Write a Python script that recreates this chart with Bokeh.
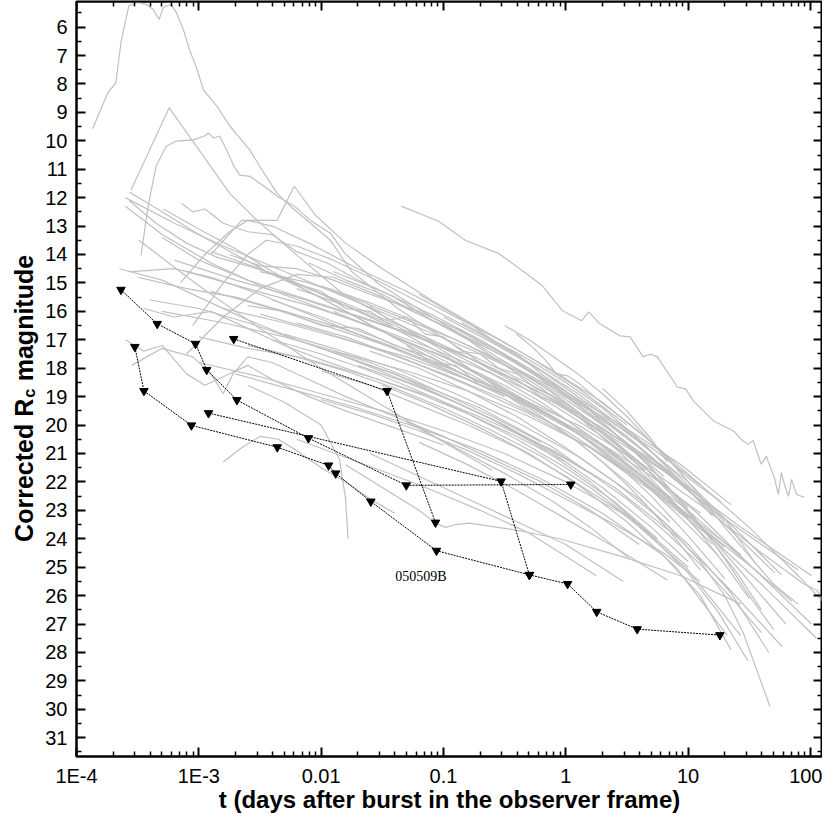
import math
from bokeh.plotting import figure
from bokeh.layouts import row
from bokeh.models import (Range1d, LogAxis, LinearAxis, FixedTicker,
                          CustomJSTickFormatter, Label)
from bokeh.core.properties import value
from bokeh.embed import file_html
from bokeh.resources import INLINE

# ---------------- axis ticks ----------------
x_ticks = [1e-4, 1e-3, 1e-2, 1e-1, 1, 10, 100]
x_tick_labels = ["1E-4", "1E-3", "0.01", "0.1", "1", "10", "100"]
x_minor = [m * d for d in [1e-4, 1e-3, 1e-2, 1e-1, 1, 10, 100] for m in range(2, 10)]
y_ticks = list(range(6, 32))
y_minor = [v + 0.5 for v in range(5, 32)]
x_lo, x_hi = 1e-4, 125.6
y_lo, y_hi = 31.66, 5.1

# ---------------- grey afterglow light curves (log10 t [days], R_c mag) ----------------
lc01_logt = [-3.868, -3.744, -3.678, -3.637, -3.571, -3.497, -3.431, -3.373, -3.324, -3.291, -3.225, -3.184,
             -3.126, -3.077, -3.019, -2.962, -2.854, -2.747, -2.582, -2.467, -2.359, -2.252, -2.087, -1.922,
             -1.757, -1.576, -1.370, -1.122, -0.793, -0.381, -0.051, 0.361, 0.773, 1.268, 1.763]
lc01_mag = [9.58, 8.31, 7.96, 6.55, 5.24, 5.13, 5.20, 5.38, 5.73, 5.31, 5.20, 5.49,
            6.09, 6.79, 7.43, 8.21, 8.77, 9.48, 10.33, 11.14, 11.85, 12.30, 12.90, 13.51,
            14.57, 15.20, 15.91, 16.61, 17.50, 18.38, 19.09, 20.32, 21.38, 23.15, 25.27]

lc02_logt = [-1.345, -1.040, -0.818, -0.546, -0.323, -0.191, -0.026, 0.130, 0.188, 0.279, 0.443, 0.526,
             0.633, 0.691, 0.748, 0.913, 0.979, 1.045, 1.210, 1.375, 1.433, 1.490, 1.532, 1.598, 1.639,
             1.705, 1.738, 1.763, 1.788, 1.821, 1.846, 1.887, 1.953]
lc02_mag = [12.30, 12.83, 13.51, 13.97, 14.67, 15.10, 15.98, 16.33, 16.02, 16.44, 16.86, 16.90,
            17.60, 17.50, 17.60, 18.66, 18.73, 19.16, 19.86, 20.22, 20.50, 20.68, 20.54, 21.38, 21.10,
            21.84, 22.44, 21.67, 22.09, 22.51, 21.91, 22.44, 22.55]

lc03_logt = [-3.555, -3.242, -2.747, -2.524, -2.194, -1.823, -1.370, -0.958, -0.546, -0.134, 0.279, 0.691, 1.103, 1.433]
lc03_mag = [11.74, 8.84, 11.85, 12.80, 14.04, 15.38, 16.44, 17.50, 18.73, 19.62, 20.68, 22.09, 23.50, 24.56]

lc04_logt = [-3.472, -3.415, -3.349, -3.266, -3.184, -3.044, -2.953, -2.920, -2.879, -2.830, -2.772, -2.714,
             -2.665, -2.582, -2.467, -2.359, -2.219, -2.087, -1.922, -1.807, -1.535, -1.205, -0.793, -0.381,
             0.031, 0.443, 0.937, 1.350]
lc04_mag = [14.04, 12.30, 10.89, 10.19, 10.01, 9.97, 9.83, 9.73, 9.90, 9.83, 10.33, 10.89,
            11.21, 11.25, 11.60, 11.95, 12.30, 12.80, 13.26, 13.96, 15.02, 15.91, 16.97, 17.85,
            18.91, 19.97, 21.38, 22.80]

lc05_logt = [-3.14, -3.05, -2.95, -2.80, -2.60, -2.40, -2.20, -1.95, -1.70, -1.40, -1.10, -0.80, -0.50, -0.20, 0.10, 0.40, 0.70, 1.00]
lc05_mag = [12.2, 12.5, 12.4, 12.9, 13.2, 13.3, 13.9, 14.3, 14.9, 15.5, 16.3, 17.0, 17.9, 18.7, 19.7, 20.8, 22.0, 23.3]

lc06_logt = [-0.405, -0.274, -0.175, -0.076, 0.015, 0.114, 0.279, 0.419, 0.551, 0.691, 0.831, 0.963, 1.103, 1.268]
lc06_mag = [16.79, 17.25, 17.67, 18.20, 18.27, 18.56, 19.16, 19.62, 20.08, 20.57, 21.14, 21.74, 22.19, 22.69]

lc07_logt = [-3.15, -2.95, -2.75, -2.60, -2.40, -2.10, -1.70, -1.30, -0.90, -0.50, -0.10, 0.30, 0.70, 1.10]
lc07_mag = [15.0, 14.0, 13.2, 12.8, 13.0, 13.6, 14.5, 15.3, 16.2, 17.1, 18.1, 19.2, 20.6, 22.1]

lc08_logt = [-3.05, -2.80, -2.60, -2.45, -2.20, -1.90, -1.50, -1.10, -0.70, -0.30, 0.10, 0.50, 0.90, 1.30]
lc08_mag = [16.5, 15.0, 14.0, 13.5, 13.7, 14.2, 15.0, 15.9, 16.8, 17.8, 18.9, 20.2, 21.7, 23.4]

lc09_logt = [-2.90, -2.65, -2.36, -2.22, -2.05, -1.80, -1.50, -1.10, -0.70, -0.30, 0.10, 0.50]
lc09_mag = [14.0, 12.8, 12.8, 11.6, 12.6, 13.6, 14.5, 15.6, 16.6, 17.6, 18.7, 20.0]

lc10_logt = [-3.10, -2.80, -2.50, -2.20, -1.90, -1.50, -1.00, -0.50, 0.00, 0.50, 1.00]
lc10_mag = [17.5, 16.2, 15.2, 14.7, 14.8, 15.5, 16.5, 17.6, 18.9, 20.4, 22.2]

lc11_logt = [-2.75, -2.50, -2.20, -1.90, -1.60, -1.20, -0.80, -0.40, 0.00, 0.40, 0.80]
lc11_mag = [14.0, 14.4, 14.5, 14.9, 15.4, 16.0, 16.8, 17.8, 19.0, 20.3, 21.8]

lc12_logt = [-3.60, -3.20, -2.80, -2.30, -1.80, -1.30, -0.80, -0.30, 0.20, 0.60, 1.00]
lc12_mag = [12.0, 12.9, 13.7, 14.6, 15.5, 16.4, 17.3, 18.3, 19.5, 20.8, 22.3]

lc13_logt = [-3.60, -3.30, -2.90, -2.50, -2.00, -1.50, -1.00, -0.50, 0.00, 0.40, 0.80, 1.20]
lc13_mag = [12.3, 13.3, 14.3, 15.1, 15.9, 16.7, 17.6, 18.6, 19.8, 21.0, 22.4, 24.0]

lc14_logt = [-3.30, -3.00, -2.60, -2.10, -1.60, -1.10, -0.60, -0.10, 0.30, 0.70, 1.10, 1.50]
lc14_mag = [13.4, 14.2, 14.9, 15.6, 16.3, 17.1, 18.0, 19.1, 20.3, 21.7, 23.2, 24.9]

lc15_logt = [-3.49, -3.00, -2.50, -2.00, -1.50, -1.00, -0.60]
lc15_mag = [13.5, 15.1, 16.6, 18.0, 19.3, 20.6, 21.6]

lc16_logt = [-3.10, -2.60, -2.10, -1.60, -1.10, -0.60, -0.10, 0.40, 0.90, 1.40, 2.01]
lc16_mag = [14.6, 15.2, 15.8, 16.5, 17.3, 18.2, 19.2, 20.5, 21.9, 23.5, 25.3]

lc17_logt = [-2.90, -2.40, -1.90, -1.40, -0.90, -0.40, 0.10, 0.60, 1.10, 1.60, 1.95, 2.05, 2.13]
lc17_mag = [15.3, 15.9, 16.6, 17.3, 18.1, 19.0, 20.0, 21.3, 22.8, 24.5, 25.6, 25.8, 26.3]

lc18_logt = [-2.40, -2.00, -1.50, -1.00, -0.50, 0.00, 0.50, 1.00, 1.50, 2.01]
lc18_mag = [15.6, 16.2, 17.0, 17.9, 18.9, 20.0, 21.4, 23.0, 24.9, 27.0]

lc19_logt = [-2.20, -1.80, -1.30, -0.80, -0.30, 0.20, 0.70, 1.20, 1.60, 2.05]
lc19_mag = [16.4, 16.9, 17.7, 18.6, 19.6, 20.8, 22.3, 24.0, 25.6, 27.5]

lc20_logt = [-2.00, -1.60, -1.20, -0.80, -0.40, 0.00, 0.40, 0.80, 1.20, 1.60, 1.90]
lc20_mag = [15.1, 15.7, 16.4, 17.2, 18.1, 19.1, 20.3, 21.6, 23.0, 24.2, 25.1]

lc21_logt = [-1.90, -1.50, -1.10, -0.70, -0.30, 0.10, 0.50, 0.90, 1.30, 1.71]
lc21_mag = [14.6, 15.3, 16.1, 17.0, 18.0, 19.1, 20.4, 21.9, 23.5, 25.2]

lc22_logt = [-3.30, -2.80, -2.30, -1.80, -1.30, -0.80, -0.30, 0.20, 0.70, 1.20, 1.55, 1.85]
lc22_mag = [16.0, 16.4, 16.9, 17.5, 18.1, 18.8, 19.7, 20.8, 22.2, 23.9, 25.1, 26.2]

lc23_logt = [-2.60, -2.10, -1.60, -1.10, -0.60, -0.10, 0.40, 0.90, 1.30, 1.77]
lc23_mag = [17.2, 17.7, 18.3, 19.0, 19.9, 20.9, 22.2, 23.9, 25.6, 27.8]

lc24_logt = [-2.30, -1.90, -1.40, -0.90, -0.40, 0.10, 0.60, 1.00, 1.35, 1.66]
lc24_mag = [16.8, 17.3, 18.0, 18.9, 19.9, 21.1, 22.6, 24.2, 25.9, 28.0]

lc25_logt = [-1.80, -1.40, -1.00, -0.60, -0.20, 0.20, 0.60, 1.00, 1.25, 1.49]
lc25_mag = [17.6, 18.2, 19.0, 19.8, 20.8, 22.0, 23.5, 25.2, 26.6, 28.3]

lc26_logt = [-1.60, -1.20, -0.80, -0.40, 0.00, 0.40, 0.80, 1.10, 1.30, 1.45, 1.67]
lc26_mag = [17.4, 18.0, 18.8, 19.7, 20.8, 22.0, 23.4, 24.8, 26.0, 27.3, 29.9]

lc27_logt = [-2.70, -2.20, -1.70, -1.20, -0.70, -0.20, 0.30, 0.80, 1.10, 1.35]
lc27_mag = [18.2, 18.8, 19.4, 20.1, 20.9, 21.9, 23.1, 24.6, 26.0, 27.9]

lc28_logt = [-3.00, -2.50, -2.00, -1.50, -1.00, -0.50, 0.00, 0.50, 1.00, 1.43]
lc28_mag = [17.8, 18.3, 18.9, 19.5, 20.2, 21.0, 22.0, 23.2, 25.1, 27.4]

lc29_logt = [-1.50, -1.10, -0.70, -0.30, 0.10, 0.50, 0.90, 1.32]
lc29_mag = [18.6, 19.3, 20.1, 21.0, 22.1, 23.4, 25.0, 27.4]

lc30_logt = [-2.00, -1.60, -1.20, -0.80, -0.40, 0.00, 0.40, 0.80, 1.10]
lc30_mag = [19.1, 19.6, 20.2, 20.9, 21.7, 22.6, 23.5, 24.5, 25.5]

lc31_logt = [-1.20, -0.80, -0.40, 0.00, 0.40, 0.83]
lc31_mag = [20.6, 21.4, 22.3, 23.3, 24.3, 25.45]

lc32_logt = [-1.60, -1.20, -0.80, -0.40, 0.00, 0.47]
lc32_mag = [21.0, 21.8, 22.6, 23.4, 24.2, 25.5]

lc33_logt = [-2.20, -1.70, -1.20, -0.70, -0.30, 0.25]
lc33_mag = [20.5, 21.3, 22.1, 23.0, 23.8, 25.3]

lc34_logt = [-1.30, -0.90, -0.50, -0.10, 0.20, 0.52]
lc34_mag = [19.9, 20.8, 21.7, 22.7, 23.6, 24.7]

lc35_logt = [-1.00, -0.60, -0.20, 0.20, 0.60, 1.00, 1.30, 1.54]
lc35_mag = [16.2, 17.1, 18.1, 19.3, 20.6, 22.0, 23.3, 24.8]

lc36_logt = [-3.20, -2.70, -2.20, -1.70, -1.20, -0.70, -0.20, 0.30, 0.80, 1.20]
lc36_mag = [14.2, 14.9, 15.5, 16.2, 16.9, 17.8, 18.9, 20.1, 21.6, 23.0]

lc37_logt = [-2.80, -2.30, -1.80, -1.30, -0.80, -0.30, 0.20, 0.70, 1.10]
lc37_mag = [15.9, 16.4, 17.0, 17.6, 18.4, 19.3, 20.4, 21.8, 23.1]

lc38_logt = [-2.50, -2.00, -1.50, -1.00, -0.50, 0.00, 0.50, 0.90]
lc38_mag = [16.1, 16.7, 17.4, 18.2, 19.1, 20.2, 21.6, 22.9]

lc39_logt = [-2.20, -1.80, -1.40, -1.00, -0.60, -0.20, 0.20, 0.60, 1.00, 1.30]
lc39_mag = [15.2, 15.8, 16.5, 17.3, 18.2, 19.2, 20.4, 21.7, 23.2, 24.3]

lc40_logt = [-1.90, -1.50, -1.10, -0.70, -0.30, 0.10, 0.50, 0.85]
lc40_mag = [16.0, 16.7, 17.5, 18.4, 19.4, 20.6, 22.0, 23.4]

lc41_logt = [-2.40, -2.00, -1.60, -1.20, -0.80, -0.40, 0.00, 0.40, 0.75]
lc41_mag = [17.0, 17.5, 18.1, 18.8, 19.6, 20.5, 21.5, 22.7, 24.0]

lc42_logt = [-1.70, -1.30, -0.90, -0.50, -0.10, 0.30, 0.70, 1.00]
lc42_mag = [17.9, 18.5, 19.2, 20.0, 21.0, 22.2, 23.6, 24.8]

lc43_logt = [-2.00, -1.60, -1.20, -0.80, -0.40, 0.00, 0.40, 0.70]
lc43_mag = [18.1, 18.6, 19.3, 20.0, 20.8, 21.8, 22.9, 23.9]

lc44_logt = [-1.40, -1.00, -0.60, -0.20, 0.20, 0.60, 0.95, 1.25]
lc44_mag = [16.9, 17.6, 18.5, 19.5, 20.6, 21.9, 23.3, 24.6]

lc45_logt = [-1.10, -0.70, -0.30, 0.10, 0.50, 0.90, 1.20]
lc45_mag = [17.4, 18.2, 19.2, 20.3, 21.5, 22.9, 24.2]

lc46_logt = [-3.40, -3.00, -2.60, -2.20, -1.80, -1.40, -1.00, -0.60, -0.20, 0.20]
lc46_mag = [15.6, 15.9, 16.4, 17.0, 17.6, 18.3, 19.0, 19.8, 20.7, 21.7]

lc47_logt = [-3.50, -3.10, -2.70, -2.30, -1.90, -1.50, -1.10, -0.70]
lc47_mag = [14.8, 15.2, 15.5, 16.0, 16.5, 17.1, 17.8, 18.6]

lc48_logt = [-2.90, -2.50, -2.10, -1.70, -1.30, -0.90, -0.50, -0.10, 0.30, 0.65]
lc48_mag = [13.9, 14.5, 15.2, 15.9, 16.6, 17.4, 18.3, 19.3, 20.4, 21.6]

lc49_logt = [-3.65, -3.30, -3.00, -2.60, -2.20, -1.80, -1.40, -1.00, -0.60, -0.20]
lc49_mag = [14.5, 14.9, 15.5, 16.3, 17.0, 17.6, 18.2, 18.9, 19.7, 20.6]

lc50_logt = [-3.55, -3.20, -2.90, -2.50, -2.10, -1.70, -1.30, -0.90, -0.50]
lc50_mag = [14.6, 14.5, 14.8, 15.4, 16.1, 16.8, 17.5, 18.2, 19.0]

lc51_logt = [-3.45, -3.20, -2.90, -2.60, -2.30, -2.00, -1.60, -1.20, -0.80, -0.40, 0.00]
lc51_mag = [15.9, 16.2, 16.0, 16.6, 17.2, 17.7, 18.3, 18.9, 19.6, 20.4, 21.3]

lc52_logt = [-3.57, -3.30, -3.00, -2.70, -2.40, -2.10, -1.80, -1.50, -1.20, -0.90]
lc52_mag = [11.8, 12.5, 13.3, 14.0, 14.7, 15.3, 16.0, 16.7, 17.4, 18.1]

lc53_logt = [-3.57, -3.35, -3.10, -2.85, -2.60, -2.30, -2.00, -1.70, -1.40, -1.10, -0.80, -0.50]
lc53_mag = [12.1, 12.9, 13.6, 14.1, 14.4, 14.8, 15.4, 16.0, 16.6, 17.3, 18.0, 18.8]

lc54_logt = [-3.29, -3.00, -2.70, -2.40, -2.10, -1.80, -1.50]
lc54_mag = [12.4, 13.1, 13.8, 14.6, 15.3, 16.0, 16.7]

lc55_logt = [-3.60, -3.45, -3.30, -3.10, -2.95, -2.80, -2.60, -2.40, -2.10, -1.80, -1.40, -1.00]
lc55_mag = [17.0, 17.4, 17.2, 18.2, 18.6, 18.3, 17.9, 18.4, 19.0, 19.5, 20.1, 20.7]

lc56_logt = [-3.55, -3.30, -3.05, -2.90, -2.80, -2.72, -2.60, -2.40, -2.10, -1.80, -1.40, -1.00, -0.60, -0.20, 0.20, 0.60]
lc56_mag = [17.9, 17.3, 17.6, 18.2, 18.9, 18.2, 17.6, 17.8, 18.4, 19.0, 19.7, 20.4, 21.2, 22.0, 23.0, 24.2]

lc57_logt = [-2.80, -2.65, -2.50, -2.35, -2.20, -2.00, -1.80, -1.60, -1.40]
lc57_mag = [21.3, 20.8, 20.4, 20.5, 20.9, 21.5, 22.0, 22.6, 23.1]

lc58_logt = [-2.60, -2.30, -2.00, -1.85, -1.80, -1.78]
lc58_mag = [18.6, 19.2, 20.0, 21.2, 22.6, 24.0]

lc59_logt = [-1.80, -1.50, -1.20, -1.065, -0.98, -0.90, -0.79, -0.40, -0.05, 0.44, 0.94, 1.43]
lc59_mag = [21.4, 22.2, 23.0, 23.45, 23.6, 23.5, 23.45, 23.7, 24.0, 24.6, 25.3, 26.3]

lc60_logt = [-0.85, -0.60, -0.30, 0.00, 0.30, 0.60, 0.90, 1.20]
lc60_mag = [16.4, 17.0, 17.7, 18.5, 19.4, 20.5, 21.8, 23.2]

lc61_logt = [0.30, 0.50, 0.70, 0.83]
lc61_mag = [18.7, 19.5, 20.5, 21.3]

lc62_logt = [-2.3, -2.0, -1.8, -1.6, -1.4, -1.2, -1.0, -0.8, -0.6, -0.4, -0.2, 0.0, 0.2, 0.4, 0.6, 0.8, 1.0]
lc62_mag = [14.9, 15.3, 15.9, 16.0, 16.6, 16.8, 17.3, 17.5, 18.1, 18.4, 19.0, 19.4, 20.0, 20.6, 21.3, 22.1, 22.9]

lc63_logt = [-1.6, -1.45, -1.3, -1.15, -1.0, -0.85, -0.7, -0.55, -0.4, -0.25, -0.1, 0.1, 0.3, 0.5, 0.7, 0.9, 1.1, 1.3, 1.5]
lc63_mag = [15.8, 16.3, 16.2, 16.8, 16.9, 17.4, 17.5, 18.0, 18.2, 18.7, 19.0, 19.6, 20.3, 21.0, 21.9, 22.8, 23.8, 24.9, 26.1]

lc64_logt = [-2.6, -2.3, -2.0, -1.7, -1.4, -1.1, -0.8, -0.5, -0.2, 0.1, 0.4, 0.7, 1.0, 1.3]
lc64_mag = [15.8, 16.0, 16.5, 16.6, 17.2, 17.6, 18.3, 18.8, 19.6, 20.3, 21.3, 22.5, 23.9, 25.4]

lc65_logt = [-1.3, -1.1, -0.9, -0.7, -0.5, -0.3, -0.1, 0.1, 0.3, 0.5, 0.7, 0.9, 1.1]
lc65_mag = [17.2, 17.8, 17.9, 18.6, 18.9, 19.5, 20.0, 20.6, 21.3, 22.1, 23.0, 24.0, 25.1]

lc66_logt = [-0.9, -0.7, -0.5, -0.3, -0.1, 0.1, 0.3, 0.5, 0.7, 0.9, 1.1, 1.3, 1.5, 1.7]
lc66_mag = [16.6, 17.1, 17.5, 18.1, 18.6, 19.3, 19.9, 20.7, 21.5, 22.5, 23.5, 24.7, 26.0, 27.2]

lc67_logt = [-2.1, -1.8, -1.5, -1.2, -0.9, -0.6, -0.3, 0.0, 0.3, 0.6, 0.9, 1.2, 1.5, 1.8]
lc67_mag = [14.3, 14.9, 15.4, 16.1, 16.7, 17.5, 18.3, 19.2, 20.2, 21.3, 22.6, 24.0, 25.5, 27.0]

lc68_logt = [-1.2, -1.0, -0.8, -0.6, -0.4, -0.2, 0.0, 0.2, 0.4, 0.6, 0.8, 1.0, 1.2, 1.4, 1.6]
lc68_mag = [15.4, 15.9, 16.4, 17.0, 17.5, 18.2, 18.8, 19.5, 20.3, 21.1, 22.0, 23.0, 24.1, 25.2, 26.5]

lc69_logt = [-3.0, -2.6, -2.2, -1.8, -1.4, -1.0, -0.6, -0.2, 0.2, 0.6, 1.0]
lc69_mag = [16.9, 17.3, 17.6, 18.1, 18.7, 19.4, 20.2, 21.1, 22.2, 23.5, 25.0]

lc70_logt = [-0.5, -0.3, -0.1, 0.1, 0.3, 0.5, 0.7, 0.9, 1.1, 1.3, 1.5, 1.7, 1.9]
lc70_mag = [16.5, 17.0, 17.6, 18.2, 18.9, 19.7, 20.6, 21.5, 22.5, 23.6, 24.6, 25.6, 26.3]

lc71_logt = [-1.9, -1.6, -1.3, -1.0, -0.7, -0.4, -0.1, 0.2, 0.5, 0.8, 1.1, 1.4, 1.6]
lc71_mag = [17.4, 17.8, 18.3, 18.9, 19.4, 20.1, 20.8, 21.7, 22.6, 23.7, 24.9, 26.3, 27.3]

lc72_logt = [-2.5, -2.1, -1.7, -1.3, -0.9, -0.5, -0.1, 0.3, 0.7, 1.1, 1.5, 1.9, 2.1]
lc72_mag = [14.6, 15.0, 15.6, 16.3, 17.0, 17.8, 18.7, 19.7, 20.8, 22.1, 23.6, 25.3, 26.2]

grey_curves = [
    (lc01_logt, lc01_mag), (lc02_logt, lc02_mag), (lc03_logt, lc03_mag), (lc04_logt, lc04_mag),
    (lc05_logt, lc05_mag), (lc06_logt, lc06_mag), (lc07_logt, lc07_mag), (lc08_logt, lc08_mag),
    (lc09_logt, lc09_mag), (lc10_logt, lc10_mag), (lc11_logt, lc11_mag), (lc12_logt, lc12_mag),
    (lc13_logt, lc13_mag), (lc14_logt, lc14_mag), (lc15_logt, lc15_mag), (lc16_logt, lc16_mag),
    (lc17_logt, lc17_mag), (lc18_logt, lc18_mag), (lc19_logt, lc19_mag), (lc20_logt, lc20_mag),
    (lc21_logt, lc21_mag), (lc22_logt, lc22_mag), (lc23_logt, lc23_mag), (lc24_logt, lc24_mag),
    (lc25_logt, lc25_mag), (lc26_logt, lc26_mag), (lc27_logt, lc27_mag), (lc28_logt, lc28_mag),
    (lc29_logt, lc29_mag), (lc30_logt, lc30_mag), (lc31_logt, lc31_mag), (lc32_logt, lc32_mag),
    (lc33_logt, lc33_mag), (lc34_logt, lc34_mag), (lc35_logt, lc35_mag), (lc36_logt, lc36_mag),
    (lc37_logt, lc37_mag), (lc38_logt, lc38_mag), (lc39_logt, lc39_mag), (lc40_logt, lc40_mag),
    (lc41_logt, lc41_mag), (lc42_logt, lc42_mag), (lc43_logt, lc43_mag), (lc44_logt, lc44_mag),
    (lc45_logt, lc45_mag), (lc46_logt, lc46_mag), (lc47_logt, lc47_mag), (lc48_logt, lc48_mag),
    (lc49_logt, lc49_mag), (lc50_logt, lc50_mag), (lc51_logt, lc51_mag), (lc52_logt, lc52_mag),
    (lc53_logt, lc53_mag), (lc54_logt, lc54_mag), (lc55_logt, lc55_mag), (lc56_logt, lc56_mag),
    (lc57_logt, lc57_mag), (lc58_logt, lc58_mag), (lc59_logt, lc59_mag), (lc60_logt, lc60_mag),
    (lc61_logt, lc61_mag), (lc62_logt, lc62_mag), (lc63_logt, lc63_mag), (lc64_logt, lc64_mag),
    (lc65_logt, lc65_mag), (lc66_logt, lc66_mag), (lc67_logt, lc67_mag), (lc68_logt, lc68_mag),
    (lc69_logt, lc69_mag), (lc70_logt, lc70_mag), (lc71_logt, lc71_mag), (lc72_logt, lc72_mag),
]

# ---------------- GRB 050509B upper limits (t [days], R_c mag) ----------------
ul1_t = [2.31e-4, 4.57e-4, 9.4e-4, 1.16e-3, 2.05e-3, 7.87e-3, 0.0497, 1.10]
ul1_mag = [15.24, 16.44, 17.14, 18.06, 19.12, 20.46, 22.12, 22.09]
ul2_t = [1.20e-3, 0.296, 0.504]
ul2_mag = [19.58, 21.98, 25.27]
ul3_t = [1.93e-3, 0.0346, 0.0861]
ul3_mag = [16.97, 18.80, 23.43]
ul4_t = [3.0e-4, 3.56e-4, 8.7e-4, 4.38e-3, 0.0115, 0.01315, 0.0255, 0.0877, 0.504, 1.035, 1.79, 3.84, 18.2]
ul4_mag = [17.25, 18.80, 20.01, 20.78, 21.42, 21.70, 22.69, 24.42, 25.27, 25.59, 26.57, 27.18, 27.39]
ul_series = [(ul1_t, ul1_mag), (ul2_t, ul2_mag), (ul3_t, ul3_mag), (ul4_t, ul4_mag)]
grb_label = "050509B"
grb_label_pos = (0.0403, 25.34)

y_title_main = "Corrected R"
y_title_sub = "c"
y_title_end = "magnitude"
x_title = "t (days after burst in the observer frame)"

FONT = "Liberation Sans"
H = 815
LW = 42

# ---------------- main plot ----------------
p = figure(width=822 - LW, height=H, x_axis_type="log",
           x_range=Range1d(x_lo, x_hi), y_range=Range1d(y_lo, y_hi),
           output_backend="svg", toolbar_location=None,
           min_border_left=31, min_border_right=0, min_border_top=1, min_border_bottom=0,
           background_fill_color="white", border_fill_color="white")
p.xgrid.visible = False
p.ygrid.visible = False
p.outline_line_color = "black"
p.outline_line_width = 2

xs = [[10 ** v for v in c[0]] for c in grey_curves]
ys = [list(c[1]) for c in grey_curves]
p.multi_line(xs, ys, line_color="#c0c0c0", line_width=1.2)

for t, m in ul_series:
    p.line(t, m, line_color="black", line_width=1, line_dash="2 1")
for t, m in ul_series:
    p.scatter(t, m, marker="inverted_triangle", size=8.5, fill_color="black", line_color="black")

p.add_layout(Label(x=grb_label_pos[0], y=grb_label_pos[1], text=grb_label,
                   text_font="Liberation Serif", text_font_size="14px",
                   text_color="black", text_baseline="alphabetic", text_align="left"))

fmt_bottom = CustomJSTickFormatter(args=dict(labels=x_tick_labels), code="""
const i = Math.round(Math.log10(tick)) + 4;
return (i >= 0 && i < labels.length) ? labels[i] : "";
""")
blank = CustomJSTickFormatter(code="return '';")


def style_axis(ax):
    ax.axis_line_width = 2
    ax.axis_line_color = "black"
    ax.major_tick_in = 9
    ax.major_tick_out = 0
    ax.minor_tick_in = 5
    ax.minor_tick_out = 0
    ax.major_tick_line_width = 2
    ax.minor_tick_line_width = 1.5
    ax.major_tick_line_color = "black"
    ax.minor_tick_line_color = "black"
    ax.major_label_text_font = FONT
    ax.major_label_text_font_size = "20px"
    ax.major_label_text_color = "black"


xb = p.xaxis[0]
xb.ticker = FixedTicker(ticks=x_ticks, minor_ticks=x_minor)
xb.formatter = fmt_bottom
style_axis(xb)
xb.major_label_standoff = 8
xb.axis_label = x_title
xb.axis_label_text_font = FONT
xb.axis_label_text_font_size = "24px"
xb.axis_label_text_font_style = "bold"
xb.axis_label_text_color = "black"
xb.axis_label_standoff = -4

yl = p.yaxis[0]
yl.ticker = FixedTicker(ticks=y_ticks, minor_ticks=y_minor)
style_axis(yl)
yl.major_label_standoff = 9

xt = LogAxis(ticker=FixedTicker(ticks=x_ticks, minor_ticks=x_minor), formatter=blank,
             fixed_location=y_hi)
style_axis(xt)
xt.major_label_standoff = 0
xt.major_label_text_font_size = "0px"
p.add_layout(xt, "above")

yr = LinearAxis(ticker=FixedTicker(ticks=y_ticks, minor_ticks=y_minor), formatter=blank,
                fixed_location=x_hi)
style_axis(yr)
yr.major_label_standoff = 0
yr.major_label_text_font_size = "0px"
p.add_layout(yr, "right")

# ---------------- y-axis title panel (text with subscript) ----------------
q = figure(width=LW, height=H, x_range=Range1d(0, LW), y_range=p.y_range,
           output_backend="svg", toolbar_location=None,
           x_axis_location=None, y_axis_location=None,
           min_border_left=0, min_border_right=0, min_border_top=0, min_border_bottom=0,
           outline_line_color=None, background_fill_color="white", border_fill_color="white")
q.xgrid.visible = False
q.ygrid.visible = False
q.text(x=[23], y=[24.11], text=[y_title_main], angle=math.pi / 2,
       text_font=value(FONT), text_font_size="25px", text_font_style="bold",
       text_color="black", text_align="left", text_baseline="alphabetic")
q.text(x=[28], y=[19.04], text=[y_title_sub], angle=math.pi / 2,
       text_font=value(FONT), text_font_size="16.5px", text_font_style="bold",
       text_color="black", text_align="left", text_baseline="alphabetic")
q.text(x=[23], y=[18.46], text=[y_title_end], angle=math.pi / 2,
       text_font=value(FONT), text_font_size="25px", text_font_style="bold",
       text_color="black", text_align="left", text_baseline="alphabetic")

layout = row(q, p, spacing=0)
open("out.html", "w").write(file_html(layout, INLINE))
